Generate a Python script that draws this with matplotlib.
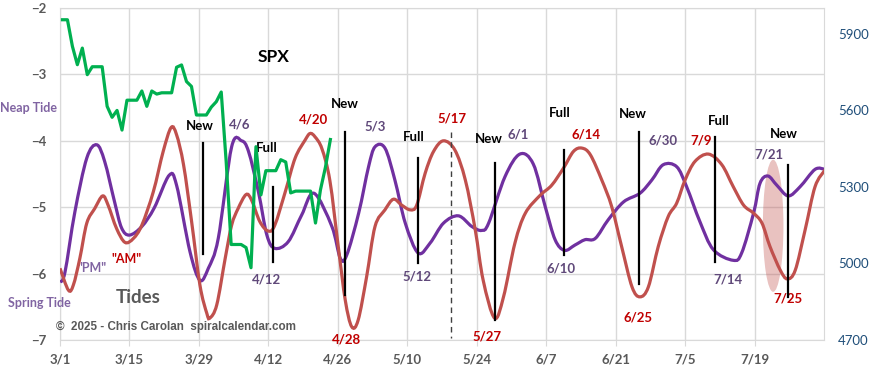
import matplotlib
matplotlib.use("Agg")
import matplotlib.pyplot as plt
from matplotlib.path import Path
from matplotlib.patches import PathPatch, Ellipse
import numpy as np

plt.rcParams['font.family'] = ['Lato', 'DejaVu Sans']

# x is days after 3/1/2025
tick_days = [0, 14, 28, 42, 56, 70, 84, 98, 112, 126, 140]
tick_labels = ['3/1', '3/15', '3/29', '4/12', '4/26', '5/10', '5/24', '6/7', '6/21', '7/5', '7/19']

# "PM" tide curve (purple)
pm_days = [0, 1, 3, 5.4, 7.4, 9, 11, 12.4, 14, 16.5, 19, 22, 23.5, 26.2, 28.2, 29.9, 31.9,
           34.6, 36.6, 38, 40, 41.7, 43.3, 46, 48.7, 51.2, 54.8, 56.5, 57.8, 60.2, 62.2,
           63.5, 65.5, 67.5, 69.6, 72.2, 74.6, 77.3, 80.3, 83, 85, 86.4, 89.7, 92.7, 95.4,
           97.8, 99.8, 101.7, 103.8, 105.8, 107.9, 110.5, 113.6, 116.9, 119.3, 121.6, 124.3,
           126.3, 129, 131.7, 135.7, 137.4, 139.8, 141.1, 142.7, 144.5, 146.8, 149.2, 152.2, 154.2]
pm_vals = [-6.13, -5.98, -5.07, -4.26, -4.06, -4.31, -4.92, -5.31, -5.42, -5.29, -5.01, -4.52,
           -4.67, -5.67, -6.10, -5.92, -5.47, -4.09, -4.00, -4.16, -4.77, -5.42, -5.62, -5.52,
           -5.12, -4.79, -5.29, -5.77, -5.72, -5.09, -4.39, -4.09, -4.11, -4.59, -5.24, -5.69,
           -5.54, -5.24, -5.13, -5.29, -5.35, -5.24, -4.54, -4.20, -4.35, -4.99, -5.49, -5.65,
           -5.57, -5.49, -5.47, -5.19, -4.92, -4.79, -4.59, -4.36, -4.39, -4.69, -5.22, -5.64,
           -5.80, -5.69, -5.09, -4.64, -4.53, -4.67, -4.83, -4.69, -4.43, -4.43]

# "AM" tide curve (red)
am_days = [0, 1.7, 2.7, 4, 5.4, 7, 8.6, 9.7, 11.4, 13.1, 14.8, 16.5, 18.8, 20.8, 22.4, 23.5,
           24.9, 26.5, 28.2, 29.6, 30.2, 31.6, 33.3, 34.6, 35.9, 37.5, 38.6, 40.3, 42, 43.3,
           45.4, 47.4, 49.4, 50.4, 51.4, 52.8, 54.4, 56.1, 57.5, 58.8, 60.1, 61.8, 63.5, 65.5,
           67.2, 68.9, 70.6, 71.9, 73.6, 75.3, 77.3, 79.6, 81.7, 83.7, 85.3, 87.6, 89.4, 91.7,
           93.8, 96.8, 99.1, 101.5, 103.5, 105.2, 106.9, 109.2, 111.2, 113.2, 115.3, 116.9,
           118.6, 120.6, 122.6, 124.3, 126, 128, 130.7, 133.4, 135.7, 137.8, 139.8, 141.5,
           143.1, 145.2, 146.6, 148.2, 150.2, 152.2, 154.2]
am_vals = [-5.92, -6.25, -6.17, -5.77, -5.24, -5.02, -4.83, -4.97, -5.32, -5.53, -5.47, -5.27,
           -4.77, -4.16, -3.80, -3.91, -4.36, -5.20, -6.17, -6.60, -6.67, -6.47, -5.77, -5.27,
           -5.02, -4.81, -4.89, -5.22, -5.36, -5.27, -4.77, -4.26, -3.99, -3.89, -3.94, -4.12,
           -4.60, -5.60, -6.40, -6.80, -6.70, -6.05, -5.29, -5.04, -4.88, -4.97, -5.04, -4.97,
           -4.49, -4.16, -4.00, -4.14, -4.59, -5.34, -6.10, -6.67, -6.35, -5.54, -5.09, -4.82,
           -4.67, -4.41, -4.16, -4.11, -4.21, -4.59, -4.99, -5.59, -6.20, -6.35, -6.20, -5.59,
           -5.14, -4.94, -4.59, -4.31, -4.20, -4.36, -4.69, -4.97, -5.09, -5.24, -5.59, -5.95,
           -6.08, -5.95, -5.34, -4.69, -4.44]

# SPX daily close (weekends carry the prior close), days 0..54
spx_vals = [5954, 5954, 5850, 5778, 5843, 5739, 5770, 5770, 5770, 5615, 5572, 5599, 5522, 5639,
            5639, 5639, 5675, 5615, 5675, 5663, 5668, 5668, 5668, 5768, 5777, 5712, 5693, 5581,
            5581, 5581, 5612, 5633, 5671, 5397, 5074, 5074, 5074, 5062, 4983, 5457, 5268, 5363,
            5363, 5363, 5406, 5397, 5276, 5283, 5283, 5283, 5283, 5158, 5288, 5376, 5485]
spx_days = [d + 0.5 for d in range(len(spx_vals))]

# moon phase markers
phase_days = [28.8, 42.9, 57.5, 72.2, 87.7, 101.6, 116.7, 132.0, 146.8]
phase_names = ['New', 'Full', 'New', 'Full', 'New', 'Full', 'New', 'Full', 'New']
phase_top = [-4.03, -4.69, -3.86, -4.26, -4.34, -4.14, -3.87, -3.95, -4.36]
phase_bottom = [-5.70, -5.82, -6.32, -5.84, -6.70, -5.72, -6.16, -5.82, -6.35]
phase_label_pos = [(28.2, -3.77), (41.7, -4.11), (57.5, -3.45), (71.4, -3.94), (86.4, -3.97),
                   (100.8, -3.58), (115.5, -3.60), (132.7, -3.70), (146.0, -3.90)]

pm_dates = ['4/6', '4/12', '5/3', '5/12', '6/1', '6/10', '6/30', '7/14', '7/21']
pm_date_pos = [(36.3, -3.76), (41.7, -6.09), (63.5, -3.79), (71.9, -6.05), (92.4, -3.91),
               (101.1, -5.92), (121.5, -4.00), (134.7, -6.09), (143.0, -4.21)]
am_dates = ['4/20', '4/28', '5/17', '5/27', '6/14', '6/25', '7/9', '7/25']
am_date_pos = [(51.1, -3.68), (57.8, -6.99), (79.0, -3.66), (86.0, -6.95), (106.0, -3.90),
               (116.6, -6.66), (129.2, -4.00), (146.8, -6.37)]


def smooth_path(x, y, t=1 / 6):
    pts = np.column_stack([x, y])
    n = len(pts)
    verts = [pts[0]]
    codes = [Path.MOVETO]
    for i in range(n - 1):
        p0 = pts[i - 1] if i > 0 else pts[i]
        p1, p2 = pts[i], pts[i + 1]
        p3 = pts[i + 2] if i + 2 < n else pts[i + 1]
        verts += [p1 + (p2 - p0) * t, p2 - (p3 - p1) * t, p2]
        codes += [Path.CURVE4] * 3
    return Path(verts, codes)


fig = plt.figure(figsize=(8.7, 3.77), dpi=100)
ax = fig.add_axes([60 / 870, 1 - 340 / 377, 764 / 870, 332 / 377])
grid_c = '#D9D9D9'

ax.set_xlim(0, 154)
ax.set_ylim(-7, -2)
ax.set_xticks(tick_days)
ax.set_xticklabels(tick_labels)
ax.set_yticks([-7, -6, -5, -4, -3, -2])
ax.grid(True, color=grid_c, lw=1)
ax.set_axisbelow(True)
for s in ax.spines.values():
    s.set_color(grid_c)
ax.tick_params(axis='x', length=4, color=grid_c, labelcolor='#595959', labelsize=9.5, pad=6)
ax.tick_params(axis='y', length=0, labelcolor='#595959', labelsize=9.5, pad=10)
for lab in ax.get_xticklabels() + ax.get_yticklabels():
    lab.set_fontweight('bold')

ax.add_patch(Ellipse((143.75, -5.28), 4.15, 1.99, facecolor='#C0504D', alpha=0.35,
                     edgecolor='none', zorder=1))
ax.add_patch(PathPatch(smooth_path(pm_days, pm_vals), fill=False, edgecolor='#7030A0',
                       lw=2.3, zorder=3))
ax.add_patch(PathPatch(smooth_path(am_days, am_vals), fill=False, edgecolor='#C0504D',
                       lw=2.3, zorder=3.5))

for d, top, bot in zip(phase_days, phase_top, phase_bottom):
    ax.plot([d, d], [top, bot], color='black', lw=1.6, zorder=5)
for name, (x, y) in zip(phase_names, phase_label_pos):
    ax.text(x, y, name, ha='center', va='center', fontsize=9.5, fontweight='bold', color='black')
ax.plot([78.9, 78.9], [-3.86, -6.97], color='#404040', lw=1, ls=(0, (4, 3)), zorder=5)

for t, (x, y) in zip(pm_dates, pm_date_pos):
    ax.text(x, y, t, ha='center', va='center', fontsize=9.5, fontweight='bold', color='#60497A')
for t, (x, y) in zip(am_dates, am_date_pos):
    ax.text(x, y, t, ha='center', va='center', fontsize=9.5, fontweight='bold', color='#C00000')

ax.text(6.4, -5.92, '"PM"', ha='center', va='center', fontsize=9, fontweight='bold', color='#8064A2')
ax.text(13.4, -5.78, '"AM"', ha='center', va='center', fontsize=9, fontweight='bold', color='#C00000')
ax.text(15.7, -6.36, 'Tides', ha='center', va='center', fontsize=13.5, fontweight='bold', color='#595959')
ax.text(43.1, -2.74, 'SPX', ha='center', va='center', fontsize=12.5, fontweight='bold', color='black')

fig.text(0.0, 1 - 108 / 377, 'Neap Tide', ha='left', va='center', fontsize=9,
         fontweight='bold', color='#8064A2')
fig.text(8 / 870, 1 - 303 / 377, 'Spring Tide', ha='left', va='center', fontsize=9,
         fontweight='bold', color='#8064A2')
fig.text(56 / 870, 1 - 327 / 377, '\u00a9  2025 - Chris Carolan  spiralcalendar.com',
         ha='left', va='center', fontsize=8.4, fontweight='bold', color='#595959',
         family=['Liberation Sans', 'DejaVu Sans'])

# SPX on the right axis
ax2 = ax.twinx()
ax2.set_ylim(4700, 6000)
ax2.set_yticks([4700, 5000, 5300, 5600, 5900])
ax2.tick_params(axis='y', length=0, labelcolor='#1F4E79', labelsize=9.5, pad=10)
for s in ax2.spines.values():
    s.set_visible(False)
ax2.plot(spx_days, spx_vals, color='#00B050', lw=2.3, zorder=4)

fig.savefig('out.png', dpi=100, facecolor='white')
